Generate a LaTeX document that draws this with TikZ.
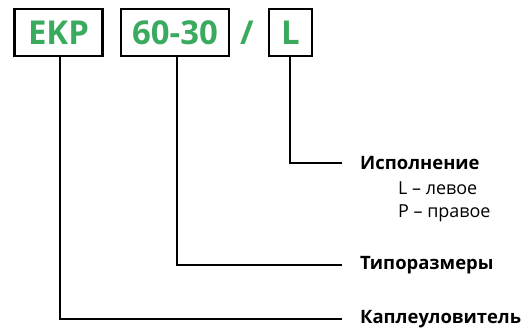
\documentclass[tikz,border=0pt]{standalone}
\usepackage{fontspec}
\setmainfont{Open Sans}
\definecolor{codegreen}{HTML}{3AAA5E}
\begin{document}
\begin{tikzpicture}[x=1bp,y=-1bp,
  codebox/.style={draw=black,line width=2.6bp,minimum height=47bp,inner sep=0pt,
    text=codegreen,font=\fontsize{33}{34}\selectfont\bfseries},
  conn/.style={line width=2bp,line join=miter},
  lbl/.style={anchor=west,inner sep=0pt,font=\fontsize{18.5}{22}\selectfont\bfseries},
  sub/.style={anchor=west,inner sep=0pt,font=\fontsize{18}{20}\selectfont}]
\useasboundingbox (0,0) rectangle (524,327);
\node[codebox,minimum width=88bp] (ekp) at (58.5,32.5) {EKP};
\node[codebox,minimum width=108bp] (size) at (175,32.5) {60-30};
\node[text=codegreen,inner sep=0pt,font=\fontsize{33}{34}\selectfont\bfseries] (slash) at (247,32.5) {/};
\node[codebox,minimum width=43bp] (var) at (290.5,32.5) {L};
\coordinate (c1) at (60,319);
\coordinate (c2) at (177,265);
\coordinate (c3) at (290,163);
\node[lbl] (isp) at (360,163) {Исполнение};
\node[sub] (lev) at (398,188) {L – левое};
\node[sub] (prav) at (398,213) {P – правое};
\node[lbl] (tip) at (360,265) {Типоразмеры};
\node[lbl] (kap) at (360,319) {Каплеуловитель};
\draw[conn] (ekp.south -| c1) -- (c1) -- ([xshift=-18bp]kap.west);
\draw[conn] (size.south -| c2) -- (c2) -- ([xshift=-18bp]tip.west);
\draw[conn] (var.south -| c3) -- (c3) -- ([xshift=-18bp]isp.west);
\end{tikzpicture}
\end{document}
